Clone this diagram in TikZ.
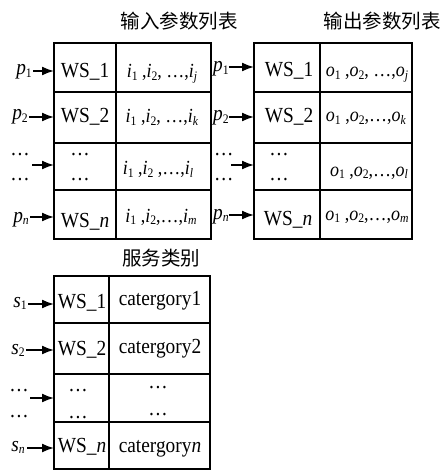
\documentclass[tikz,border=0pt]{standalone}
\usepackage{fontspec}
\setmainfont{Liberation Serif}[FakeStretch=0.9]
\newfontfamily\cjk{Noto Sans CJK SC}
\usetikzlibrary{arrows.meta}
\newcommand\sv[2]{\textit{#1}\raisebox{-0.3ex}{\fontsize{13}{13}\selectfont #2}}
\begin{document}
\begin{tikzpicture}[x=1pt,y=-1pt,
  frame/.style={line width=1.5pt},
  arr/.style={line width=1.7pt,-{Latex[length=12pt,width=9pt]}},
  txt/.style={inner sep=0pt,anchor=base,font=\fontsize{21.5}{24}\selectfont},
  par/.style={inner sep=0pt,anchor=base,font=\fontsize{20}{24}\selectfont},
  lbl/.style={inner sep=0pt,anchor=base east,font=\fontsize{21.5}{24}\selectfont},
  rlbl/.style={inner sep=0pt,anchor=base west,font=\fontsize{21.5}{24}\selectfont},
  title/.style={inner sep=0pt,font=\cjk\fontsize{19.5}{22}\selectfont}]
\useasboundingbox (0,0) rectangle (445,470);

% titles
\node[title] (ttl1) at (179,21) {输入参数列表};
\node[title] (ttl2) at (382,21) {输出参数列表};
\node[title] (ttl3) at (161,258) {服务类别};

% table frames
\draw[frame] (54,43) rectangle (211,239);
\draw[frame] (116,43) -- (116,239);
\foreach \yy in {92,143,190} \draw[frame] (54,\yy) -- (211,\yy);
\draw[frame] (254,43) rectangle (412,239);
\draw[frame] (320,43) -- (320,239);
\foreach \yy in {92,143,190} \draw[frame] (254,\yy) -- (412,\yy);
\draw[frame] (54,276) rectangle (210,469);
\draw[frame] (109,276) -- (109,469);
\foreach \yy in {323,374,422} \draw[frame] (54,\yy) -- (210,\yy);

% table 1 cells
\node[txt] (a11) at (85,78) {WS\_1};
\node[par] (a12) at (162,78) {\sv{i}{1} ,\sv{i}{2}, …,\sv{i}{\textit{j}}};
\node[txt] (a21) at (85,123) {WS\_2};
\node[par] (a22) at (162,123) {\sv{i}{1} ,\sv{i}{2}, …,\sv{i}{\textit{k}}};
\node[txt] (a31) at (80,156) {…};
\node[txt] (a32) at (80,181) {…};
\node[par] (a33) at (158,175) {\sv{i}{1} ,\sv{i}{2} ,…,\sv{i}{\textit{l}}};
\node[txt] (a41) at (85,227) {WS\_\textit{n}};
\node[par] (a42) at (161,222) {\sv{i}{1} ,\sv{i}{2},…,\sv{i}{\textit{m}}};

% table 2 cells
\node[txt] (b11) at (289,77) {WS\_1};
\node[par] (b12) at (367,77) {\sv{o}{1} ,\sv{o}{2}, …,\sv{o}{\textit{j}}};
\node[txt] (b21) at (289,123) {WS\_2};
\node[par] (b22) at (366,122) {\sv{o}{1} ,\sv{o}{2},…,\sv{o}{\textit{k}}};
\node[txt] (b31) at (279,156) {…};
\node[txt] (b32) at (279,181) {…};
\node[par] (b33) at (369,176) {\sv{o}{1} ,\sv{o}{2},…,\sv{o}{\textit{l}}};
\node[txt] (b41) at (288,225) {WS\_\textit{n}};
\node[par] (b42) at (367,220) {\sv{o}{1} ,\sv{o}{2},…,\sv{o}{\textit{m}}};

% table 3 cells
\node[txt] (c11) at (82,308) {WS\_1};
\node[txt] (c12) at (160,305) {catergory1};
\node[txt] (c21) at (82,355) {WS\_2};
\node[txt] (c22) at (160,353) {catergory2};
\node[txt] (c31) at (78,391) {…};
\node[txt] (c32) at (78,418) {…};
\node[txt] (c33) at (158,388) {…};
\node[txt] (c34) at (158,415) {…};
\node[txt] (c41) at (82,452) {WS\_\textit{n}};
\node[txt] (c42) at (160,452) {catergory\textit{n}};

% arrow targets
\coordinate (A1) at (54,71);
\coordinate (A2) at (54,117);
\coordinate (A3) at (54,165);
\coordinate (A4) at (54,217);
\coordinate (B1) at (254,67);
\coordinate (B2) at (254,117);
\coordinate (B3) at (254,165);
\coordinate (B4) at (254,215);
\coordinate (C1) at (54,304);
\coordinate (C2) at (54,350);
\coordinate (C3) at (54,398);
\coordinate (C4) at (54,448);
\coordinate (SA) at (32,165);
\coordinate (SB) at (231,165);
\coordinate (SC) at (30,398);

% left labels table 1
\node[lbl] (lp1) at (32,75) {\sv{p}{1}};
\node[lbl] (lp2) at (28,120) {\sv{p}{2}};
\node[lbl] (ld1) at (30,156) {…};
\node[lbl] (ld2) at (30,181) {…};
\node[lbl] (lpn) at (29,222) {\sv{p}{\textit{n}}};
\draw[arr] ([xshift=1pt]lp1.east |- A1) -- (A1);
\draw[arr] ([xshift=1pt]lp2.east |- A2) -- (A2);
\draw[arr] (SA) -- (A3);
\draw[arr] ([xshift=1pt]lpn.east |- A4) -- (A4);

% labels between tables
\node[rlbl] (rp1) at (213,72) {\sv{p}{1}};
\node[rlbl] (rp2) at (213,121) {\sv{p}{2}};
\node[rlbl] (rd1) at (214,156) {…};
\node[rlbl] (rd2) at (214,181) {…};
\node[rlbl] (rpn) at (213,219) {\sv{p}{\textit{n}}};
\draw[arr] (rp1.east |- B1) -- (B1);
\draw[arr] (rp2.east |- B2) -- (B2);
\draw[arr] (SB) -- (B3);
\draw[arr] (rpn.east |- B4) -- (B4);

% labels table 3
\node[lbl] (ls1) at (27,307) {\sv{s}{1}};
\node[lbl] (ls2) at (25,354) {\sv{s}{2}};
\node[lbl] (le1) at (29,391) {…};
\node[lbl] (le2) at (29,417) {…};
\node[lbl] (lsn) at (25,451) {\sv{s}{\textit{n}}};
\draw[arr] ([xshift=1pt]ls1.east |- C1) -- (C1);
\draw[arr] ([xshift=1pt]ls2.east |- C2) -- (C2);
\draw[arr] (SC) -- (C3);
\draw[arr] ([xshift=2pt]lsn.east |- C4) -- (C4);
\end{tikzpicture}
\end{document}
